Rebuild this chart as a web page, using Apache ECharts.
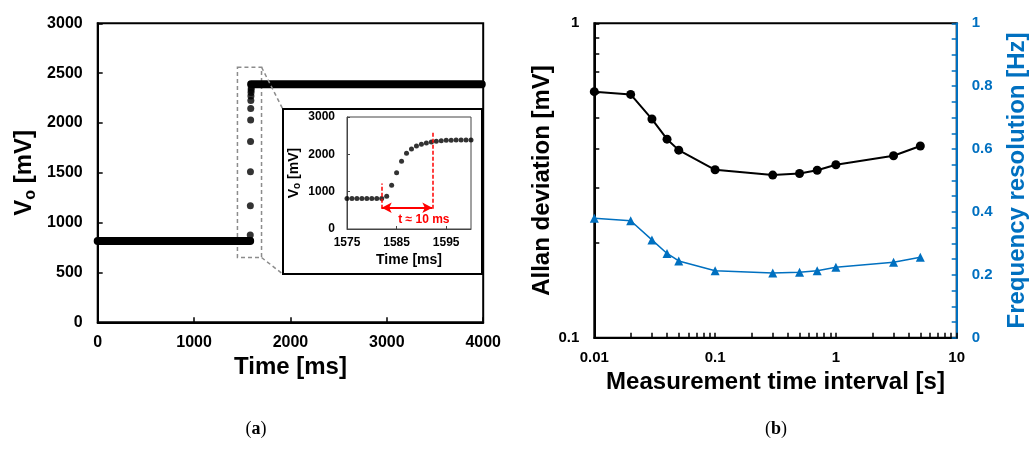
<!DOCTYPE html>
<html>
<head>
    <meta charset="UTF-8">
    <title>Vo step / Allan deviation</title>
    <script src="https://cdn.jsdelivr.net/npm/echarts@6/dist/echarts.min.js"></script>
    <style>
        body { margin: 0; background: #fff; }
    </style>
</head>
<body>
<div id="chart" style="width:1031px; height:449px;"></div>
<script>
    // (a) 主图: 低电平、跃迁点、高电平
    var lowTime = [0, 500, 1000, 1500, 1582];
    var lowVolt = [815, 815, 815, 815, 815];
    var riseTime = [1582, 1583, 1584, 1585, 1586, 1587, 1588, 1589, 1590, 1591, 1592, 1593];
    var riseVolt = [820, 875, 1170, 1510, 1815, 2030, 2145, 2225, 2270, 2305, 2330, 2350];
    var highTime = [1592, 2000, 3000, 3985];
    var highVolt = [2388, 2388, 2388, 2388];

    // (a) 放大图 1575-1600 ms
    var insetTime = [1575, 1576, 1577, 1578, 1579, 1580, 1581, 1582, 1583, 1584, 1585, 1586, 1587,
        1588, 1589, 1590, 1591, 1592, 1593, 1594, 1595, 1596, 1597, 1598, 1599, 1600];
    var insetVolt = [820, 820, 820, 820, 820, 820, 820, 820, 875, 1170, 1510, 1815, 2030,
        2145, 2225, 2270, 2305, 2330, 2350, 2365, 2375, 2380, 2382, 2385, 2385, 2385];
    var insetTickLabels = [1575, 1585, 1595];

    // (b) Allan deviation / frequency resolution
    var intervalS = [0.01, 0.02, 0.03, 0.04, 0.05, 0.1, 0.3, 0.5, 0.7, 1, 3, 5];
    var allanDev = [0.606, 0.594, 0.496, 0.428, 0.395, 0.342, 0.329, 0.333, 0.341, 0.355, 0.379, 0.407];
    var freqRes = [0.380, 0.372, 0.311, 0.268, 0.244, 0.213, 0.206, 0.208, 0.213, 0.224, 0.240, 0.256];
    var logXTicks = [0.01, 0.02, 0.03, 0.04, 0.05, 0.06, 0.07, 0.08, 0.09,
        0.1, 0.2, 0.3, 0.4, 0.5, 0.6, 0.7, 0.8, 0.9,
        1, 2, 3, 4, 5, 6, 7, 8, 9, 10];
    var logYTicks = [0.1, 0.2, 0.3, 0.4, 0.5, 0.6, 0.7, 0.8, 0.9, 1];

    var font = 'Liberation Sans, Arial, sans-serif';
    var blue = '#0070C0';

    function zip(xs, ys) {
        return xs.map(function (x, i) { return [x, ys[i]]; });
    }
    // 不要千位分隔符
    function plain(v) {
        return String(v);
    }

    var chart = echarts.init(document.getElementById('chart'), null, {renderer: 'canvas'});

    var tickIn = {show: true, inside: true, length: 5, lineStyle: {color: '#000', width: 1.5}};
    var lblA = {color: '#000', fontFamily: font, fontWeight: 'bold', fontSize: 16, formatter: plain};
    var lblB = {color: '#000', fontFamily: font, fontWeight: 'bold', fontSize: 15};
    var nameBig = {color: '#000', fontFamily: font, fontWeight: 'bold', fontSize: 24};
    var serifRich = {
        p: {fontFamily: 'Liberation Serif, serif', fontSize: 18, fill: '#000'},
        b: {fontFamily: 'Liberation Serif, serif', fontSize: 18, fontWeight: 'bold', fill: '#000'}
    };

    var option = {
        animation: false,
        backgroundColor: '#fff',
        grid: [
            {left: 97.7, top: 23.3, width: 385.5, height: 299, show: true, borderColor: '#000', borderWidth: 2},
            {left: 347, top: 117, width: 124, height: 112, show: true, borderColor: '#444', borderWidth: 1},
            {left: 594.3, top: 23.3, width: 362.4, height: 314.4, show: true, borderColor: '#000', borderWidth: 2}
        ],
        graphic: [
            // 放大图外框
            {type: 'rect', shape: {x: 283, y: 109, width: 199, height: 165},
                style: {fill: 'transparent', stroke: '#000', lineWidth: 2}},
            {type: 'text', style: {x: 256, y: 429, align: 'center', verticalAlign: 'middle',
                text: '{p|(}{b|a}{p|)}', rich: serifRich}},
            {type: 'text', style: {x: 776, y: 429, align: 'center', verticalAlign: 'middle',
                text: '{p|(}{b|b}{p|)}', rich: serifRich}}
        ],
        xAxis: [
            {
                gridIndex: 0, type: 'value', min: 0, max: 4000, interval: 1000,
                name: 'Time [ms]', nameLocation: 'middle', nameGap: 32, nameTextStyle: nameBig,
                axisLine: {lineStyle: {color: '#000', width: 2}},
                axisTick: tickIn, axisLabel: Object.assign({margin: 12}, lblA),
                splitLine: {show: false}
            },
            {
                gridIndex: 1, type: 'value', min: 1575, max: 1600,
                name: 'Time [ms]', nameLocation: 'middle', nameGap: 24,
                nameTextStyle: {color: '#000', fontFamily: font, fontWeight: 'bold', fontSize: 14},
                axisLine: {lineStyle: {color: '#444', width: 1}},
                axisTick: {show: true, inside: true, length: 3, customValues: insetTickLabels, lineStyle: {color: '#444'}},
                axisLabel: {customValues: insetTickLabels, margin: 8, formatter: plain,
                    color: '#000', fontFamily: font, fontWeight: 'bold', fontSize: 12},
                splitLine: {show: false}
            },
            {
                gridIndex: 2, type: 'log', logBase: 10, min: 0.01, max: 10,
                name: 'Measurement time interval [s]', nameLocation: 'middle', nameGap: 33, nameTextStyle: nameBig,
                axisLine: {lineStyle: {color: '#000', width: 2}},
                axisTick: Object.assign({customValues: logXTicks}, tickIn),
                axisLabel: Object.assign({margin: 13}, lblB),
                splitLine: {show: false}
            }
        ],
        yAxis: [
            {
                gridIndex: 0, type: 'value', min: 0, max: 3000, interval: 500,
                name: '{v|V}{s|o}{v| [mV]}', nameLocation: 'middle', nameGap: 59,
                nameTextStyle: {color: '#000', fontFamily: font, fontWeight: 'bold', fontSize: 24,
                    rich: {v: {fontFamily: font, fontWeight: 'bold', fontSize: 24, lineHeight: 28},
                        s: {fontFamily: font, fontWeight: 'bold', fontSize: 16, lineHeight: 28, verticalAlign: 'bottom'}}},
                axisLine: {lineStyle: {color: '#000', width: 2}},
                axisTick: tickIn, axisLabel: Object.assign({margin: 15}, lblA),
                splitLine: {show: false}
            },
            {
                gridIndex: 1, type: 'value', min: 0, max: 3000, interval: 1000,
                name: '{v|V}{s|o}{v| [mV]}', nameLocation: 'middle', nameGap: 45,
                nameTextStyle: {color: '#000', fontFamily: font, fontWeight: 'bold', fontSize: 14,
                    rich: {v: {fontFamily: font, fontWeight: 'bold', fontSize: 14, lineHeight: 16},
                        s: {fontFamily: font, fontWeight: 'bold', fontSize: 10, lineHeight: 16, verticalAlign: 'bottom'}}},
                axisLine: {lineStyle: {color: '#444', width: 1}},
                axisTick: {show: true, inside: true, length: 3, lineStyle: {color: '#444'}},
                axisLabel: {margin: 12, formatter: plain, color: '#000', fontFamily: font, fontWeight: 'bold', fontSize: 12},
                splitLine: {show: false}
            },
            {
                gridIndex: 2, type: 'log', logBase: 10, min: 0.1, max: 1, position: 'left',
                name: 'Allan deviation [mV]', nameLocation: 'middle', nameGap: 37, nameTextStyle: nameBig,
                axisLine: {lineStyle: {color: '#000', width: 2}},
                axisTick: Object.assign({customValues: logYTicks}, tickIn),
                axisLabel: Object.assign({margin: 15}, lblB),
                splitLine: {show: false}
            },
            {
                gridIndex: 2, type: 'value', min: 0, max: 1, interval: 0.2, position: 'right',
                name: 'Frequency resolution [Hz]', nameLocation: 'middle', nameGap: 49,
                nameTextStyle: {color: blue, fontFamily: font, fontWeight: 'bold', fontSize: 24},
                axisLine: {show: true, lineStyle: {color: blue, width: 2}},
                axisTick: {show: true, inside: true, length: 5, lineStyle: {color: blue, width: 1.5}},
                minorTick: {show: true, splitNumber: 4, length: 5, lineStyle: {color: blue, width: 1.5}},
                axisLabel: {margin: 15, color: blue, fontFamily: font, fontWeight: 'bold', fontSize: 15},
                splitLine: {show: false}
            }
        ],
        series: [
            {
                name: 'low', type: 'line', xAxisIndex: 0, yAxisIndex: 0,
                data: zip(lowTime, lowVolt), showSymbol: false, clip: false,
                lineStyle: {color: '#000', width: 8, cap: 'round'},
                markLine: {
                    silent: true, symbol: ['none', 'none'],
                    lineStyle: {color: '#8c8c8c', type: [4, 3], width: 1.5},
                    label: {show: false},
                    data: [
                        [{coord: [1700, 2560]}, {coord: [1920, 2140]}],
                        [{coord: [1700, 650]}, {coord: [1920, 485]}]
                    ]
                }
            },
            {
                name: 'rise', type: 'scatter', xAxisIndex: 0, yAxisIndex: 0,
                data: zip(riseTime, riseVolt), symbolSize: 7,
                itemStyle: {color: '#000'},
                markArea: {
                    silent: true,
                    itemStyle: {color: 'transparent', borderColor: '#8c8c8c', borderWidth: 1.5, borderType: [4, 3]},
                    data: [[{coord: [1450, 2560]}, {coord: [1700, 650]}]]
                }
            },
            {
                name: 'high', type: 'line', xAxisIndex: 0, yAxisIndex: 0,
                data: zip(highTime, highVolt), showSymbol: false, clip: false,
                lineStyle: {color: '#000', width: 8, cap: 'round'}
            },
            {
                name: 'inset', type: 'scatter', xAxisIndex: 1, yAxisIndex: 1,
                data: zip(insetTime, insetVolt), symbolSize: 5,
                itemStyle: {color: '#000'},
                markLine: {
                    silent: true, symbol: ['none', 'none'],
                    lineStyle: {color: '#ff0000', type: [4, 2], width: 1.5},
                    label: {show: false},
                    data: [
                        [{coord: [1582, 540]}, {coord: [1582, 1220]}],
                        [{coord: [1592.2, 540]}, {coord: [1592.2, 2620]}]
                    ]
                }
            },
            {
                name: 'arrow', type: 'line', xAxisIndex: 1, yAxisIndex: 1,
                data: [],
                markLine: {
                    silent: true, symbol: ['arrow', 'arrow'], symbolSize: [8, 10],
                    lineStyle: {color: '#ff0000', type: 'solid', width: 2},
                    label: {show: false},
                    data: [[{coord: [1582, 570]}, {coord: [1592.2, 570]}]]
                },
                markPoint: {
                    silent: true, symbol: 'rect', symbolSize: 1,
                    itemStyle: {color: 'transparent'},
                    label: {show: true, position: 'inside', formatter: 't ≈ 10 ms',
                        color: '#ff0000', fontFamily: font, fontWeight: 'bold', fontSize: 12},
                    data: [{coord: [1590.5, 241]}]
                }
            },
            {
                name: 'Allan deviation', type: 'line', xAxisIndex: 2, yAxisIndex: 2,
                data: zip(intervalS, allanDev),
                symbol: 'circle', symbolSize: 9, showAllSymbol: true,
                itemStyle: {color: '#000'},
                lineStyle: {color: '#000', width: 2}
            },
            {
                name: 'Frequency resolution', type: 'line', xAxisIndex: 2, yAxisIndex: 3,
                data: zip(intervalS, freqRes),
                symbol: 'triangle', symbolSize: 9, showAllSymbol: true,
                itemStyle: {color: blue},
                lineStyle: {color: blue, width: 1.5}
            }
        ]
    };
    chart.setOption(option);
</script>
</body>
</html>
